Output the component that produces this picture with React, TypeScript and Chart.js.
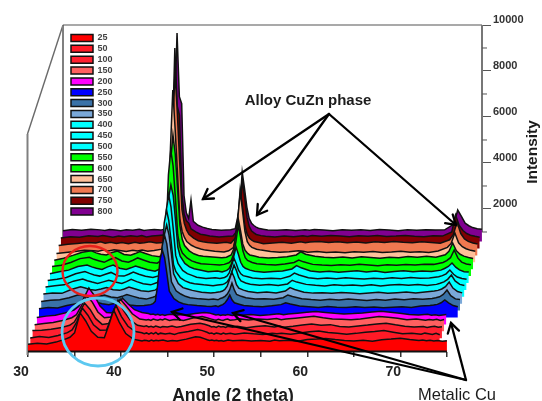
import React, { useEffect, useRef } from "react";
import { Chart, registerables } from "chart.js";

Chart.register(...registerables);

const angles = [
  30,31,32,33,34,34.5,35,35.6,36.2,36.8,
  37.5,38.2,38.7,39.2,39.8,40.5,
  41.3,42,42.25,42.5,42.75,43,43.25,43.5,43.75,44,44.5,45,45.5,46,
  47,48,
  48.5,49,49.25,49.5,49.75,50,50.25,50.5,50.75,51,51.5,52,53,
  54,55,56,56.5,57,
  58,59,60,61,62,63,64,65,66,67,
  68,69,70,
  71,72,72.4,72.8,73.2,73.6,74,74.5,75,
];

const seriesNames = ["25","50","100","150","200","250","300","350","400","450","500","550","600","650","700","750","800"];
const seriesColors = ["#ff0000","#ff1a26","#ff2030","#ff6060","#ff00ff","#0000ff","#3a72a8","#7aa8d8","#00ffff","#00ffff","#00ffff","#00ff00","#00ff00","#ffc09a","#f07850","#800000","#800090"];

const s25 = [340,380,350,430,560,640,830,1700,1350,900,
  640,620,1200,1830,1300,800,
  560,500,480,510,500,470,520,480,510,490,520,470,500,480,
  560,660,
  640,570,530,500,520,490,510,480,500,470,520,490,510,
  480,500,470,520,490,
  510,470,540,560,590,540,500,480,510,470,
  530,560,600,
  540,500,520,490,510,480,500,470,490];
const s50 = [310,370,330,420,540,660,1000,1610,1300,880,
  650,660,1150,1740,1240,820,
  590,540,500,530,480,530,490,550,470,520,480,510,460,530,
  590,680,
  630,560,510,530,480,520,500,470,520,480,510,
  470,530,490,460,520,
  490,510,470,530,580,610,550,520,470,510,
  560,590,630,
  560,490,510,470,520,490,460,510,450];
const s100 = [330,350,390,450,560,700,1050,1530,1250,850,
  600,640,1100,1660,1200,790,
  560,510,540,490,520,480,530,500,470,510,490,530,480,510,
  610,650,
  610,540,490,510,470,530,490,510,470,520,480,
  520,460,510,540,490,
  530,480,520,570,620,560,590,510,490,530,
  570,620,650,
  580,520,490,510,470,500,520,480,500];
const s150 = [290,340,380,470,590,720,1080,1535,1270,840,
  590,620,1050,1404,1120,760,
  530,490,510,470,530,500,480,520,490,540,470,510,500,470,
  580,640,
  590,530,500,480,520,490,470,510,530,480,500,
  540,490,530,510,560,
  500,530,570,610,650,590,540,520,500,540,
  590,640,610,
  570,500,530,480,510,490,520,470,510];
const s200 = [300,360,400,500,620,780,1100,1583,1250,800,
  520,496,800,1148,900,640,
  520,470,430,450,410,440,400,430,390,420,440,400,430,410,
  470,520,
  500,440,410,430,390,420,400,430,410,390,420,
  400,430,390,420,460,
  420,450,490,530,560,520,480,450,470,500,
  540,570,530,
  480,430,410,440,400,420,390,410,430];
const s250 = [380,430,410,520,600,640,620,590,660,600,
  560,620,640,600,540,510,
  520,560,600,700,1400,2500,2935,2600,1900,1150,820,680,600,560,
  520,490,
  480,510,470,520,560,640,780,978,760,640,580,520,490,
  470,510,560,640,590,
  500,470,440,480,450,430,470,440,460,420,
  450,470,440,
  500,520,540,570,640,761,640,520,470];
const s300 = [400,450,470,560,690,640,610,560,620,680,
  590,560,620,700,630,550,
  500,580,620,760,1600,2800,3287,2900,2100,1250,860,720,620,560,
  510,480,
  500,470,530,560,620,720,900,1200,900,700,620,560,500,
  520,490,560,680,610,
  520,480,450,490,460,500,470,440,480,450,
  500,470,510,
  490,530,560,600,700,896,650,510,480];
const s350 = [420,470,450,620,740,680,620,590,640,700,
  610,580,640,720,650,560,
  530,590,650,800,1700,3000,3422,3000,2200,1300,880,700,640,580,
  500,470,
  490,520,550,620,760,1050,1378,1150,830,680,590,530,480,
  510,470,550,700,620,
  500,460,480,450,490,460,430,470,500,450,
  480,510,470,
  510,550,580,640,740,943,680,530,470];
const s400 = [430,480,520,680,770,700,640,580,650,720,
  640,580,660,760,660,570,
  520,620,800,1600,3200,3774,3300,2400,1400,1100,820,690,610,570,
  520,480,
  510,530,570,640,800,1050,1383,1150,840,690,600,550,500,
  530,490,560,720,640,
  540,500,470,520,490,510,480,520,470,510,
  540,500,530,
  490,540,590,650,760,948,690,540,490];
const s450 = [410,460,540,700,800,720,650,600,680,760,
  620,600,680,780,680,590,
  540,620,820,1800,3500,4126,3600,2600,1500,1150,850,710,630,550,
  500,530,
  500,540,600,740,1050,1387,1150,860,700,620,570,520,490,
  510,480,590,730,650,
  530,490,520,480,530,500,470,510,490,530,
  500,540,510,
  520,570,620,700,865,680,560,500,460];
const s500 = [400,490,560,720,780,700,640,590,700,780,
  640,590,660,740,660,580,
  510,640,850,1900,3700,4261,3800,2700,1550,1170,850,700,620,580,
  490,520,
  480,550,630,820,1150,1565,1250,900,720,640,560,510,470,
  500,520,610,760,660,
  520,480,510,470,500,530,480,520,460,500,
  530,490,520,
  500,560,630,720,870,690,570,490,480];
const s550 = [420,470,590,760,820,730,670,600,720,810,
  660,600,690,790,700,600,
  560,760,1800,4400,5483,4800,3400,1800,1250,1000,790,660,590,540,
  510,480,
  510,580,680,950,1500,2222,1700,1100,800,680,590,540,500,
  480,530,590,700,620,
  510,480,460,490,470,510,480,450,490,470,
  500,480,520,
  510,590,670,800,1135,780,610,530,490];
const s600 = [390,480,600,740,800,710,650,620,730,790,
  640,610,680,770,680,590,
  540,800,2000,4700,5835,5000,3500,1900,1300,1030,800,670,600,560,
  530,500,
  520,620,850,1500,2226,1700,1100,820,700,620,570,520,490,
  510,540,620,760,650,
  560,520,500,530,490,540,510,480,520,500,
  550,520,560,
  520,630,780,1139,800,650,570,510,470];
const s650 = [380,430,470,520,500,480,530,490,540,510,
  470,520,490,530,480,510,
  570,1200,5000,7492,5800,3900,1900,1350,1080,900,740,640,580,530,
  480,450,
  500,640,1000,2000,3057,2200,1350,900,740,650,570,530,470,
  440,460,500,480,440,
  470,430,450,420,460,440,470,430,450,480,
  440,460,430,
  490,650,820,1274,850,680,590,520,480];
const s700 = [430,480,520,560,540,590,530,570,520,560,
  510,570,530,550,590,540,
  560,1400,5400,7974,6200,4100,2000,1400,1100,920,750,640,590,560,
  530,570,
  530,760,1500,2844,2100,1300,920,750,660,600,560,510,540,
  570,530,590,550,580,
  600,560,590,550,580,540,590,560,600,570,
  550,590,560,
  530,680,900,1452,950,720,610,540,500];
const s750 = [460,510,490,550,520,560,530,490,540,510,
  550,520,560,500,540,570,
  600,5000,8718,6200,5800,2400,1500,1200,1100,850,720,620,590,540,
  500,530,
  540,800,1600,2979,2200,1350,950,760,680,610,560,530,500,
  540,510,550,520,560,
  530,570,540,510,550,530,560,520,540,570,
  530,510,550,
  540,720,1457,1000,780,650,580,530,490];
const s800 = [470,530,490,540,510,480,530,500,470,520,
  490,540,480,510,530,500,
  580,5600,9070,6300,6000,2000,1250,1000,1809,880,710,630,570,530,
  490,520,
  560,1500,3026,2300,1500,1000,800,700,630,580,540,500,490,
  520,480,510,490,530,
  500,470,520,490,510,480,530,500,470,510,
  490,520,500,
  510,760,1374,1100,800,690,610,560,540];

const seriesValues = [s25,s50,s100,s150,s200,s250,s300,s350,s400,s450,s500,s550,s600,s650,s700,s750,s800];

const xTickValues = [30,35,40,45,50,55,60,65,70,75];
const yTickValues = [2000,4000,6000,8000,10000];
const yMinorValues = [1000,3000,5000,7000,9000];

const X_MIN = 30;
const X_MAX = 78.77;
const Y_MIN = -4218;
const Y_MAX = 10000;
const DEPTH_ANGLE = 0.235;
const DEPTH_VALUE = 300;

const ink = "#111111";
const font = "'Liberation Sans', Arial, sans-serif";

function arrow(ctx: CanvasRenderingContext2D, x0: number, y0: number, x1: number, y1: number) {
  const a = Math.atan2(y1 - y0, x1 - x0);
  ctx.beginPath();
  ctx.moveTo(x0, y0);
  ctx.lineTo(x1, y1);
  ctx.stroke();
  ctx.beginPath();
  ctx.moveTo(x1 - 11 * Math.cos(a - 0.55), y1 - 11 * Math.sin(a - 0.55));
  ctx.lineTo(x1, y1);
  ctx.lineTo(x1 - 11 * Math.cos(a + 0.55), y1 - 11 * Math.sin(a + 0.55));
  ctx.stroke();
}

const frame = {
  id: "frame",
  afterLayout(chart: any) {
    const lg = chart.legend;
    lg.left = 69.15;
    lg.right = 200;
    lg.top = 31.65;
    lg.bottom = 400;
  },
  beforeDatasetsDraw(chart: any) {
    const { ctx, scales: { x, y } } = chart;
    const xl = x.getPixelForValue(30) - 0.5;
    const xb = x.getPixelForValue(30 + DEPTH_ANGLE * 16);
    const xr = x.getPixelForValue(X_MAX);
    const yt = y.getPixelForValue(10000);
    const yf = y.getPixelForValue(1000);
    const yb = y.getPixelForValue(Y_MIN);
    const yw = y.getPixelForValue(5260);
    ctx.save();
    ctx.strokeStyle = "#808080";
    ctx.lineWidth = 2;
    ctx.beginPath();
    ctx.moveTo(xl, yb + 3);
    ctx.lineTo(xl, yw);
    ctx.stroke();
    ctx.lineWidth = 1.4;
    ctx.strokeStyle = "#6a6a6a";
    ctx.beginPath();
    ctx.moveTo(xl, yw);
    ctx.lineTo(xb, yt);
    ctx.stroke();
    ctx.lineWidth = 2;
    ctx.strokeStyle = "#808080";
    ctx.beginPath();
    ctx.moveTo(xb, yt);
    ctx.lineTo(xb, yf + 8);
    ctx.stroke();
    ctx.lineWidth = 1.2;
    ctx.strokeStyle = "#555555";
    ctx.beginPath();
    ctx.moveTo(xb, yt);
    ctx.lineTo(xr, yt);
    ctx.stroke();
    ctx.lineWidth = 2;
    ctx.strokeStyle = "#777777";
    ctx.beginPath();
    ctx.moveTo(xr, yt);
    ctx.lineTo(xr, yf);
    ctx.stroke();
    ctx.lineWidth = 1;
    ctx.strokeStyle = "#555555";
    yMinorValues.forEach((v) => {
      const p = y.getPixelForValue(v);
      ctx.beginPath();
      ctx.moveTo(xr, p);
      ctx.lineTo(xr + 5, p);
      ctx.stroke();
    });
    ctx.restore();
  },
  afterDatasetsDraw(chart: any) {
    const { ctx, scales: { x, y } } = chart;
    ctx.save();
    ctx.strokeStyle = ink;
    ctx.lineWidth = 2;
    ctx.beginPath();
    ctx.moveTo(x.getPixelForValue(30), y.getPixelForValue(Y_MIN) - 0.5);
    ctx.lineTo(x.getPixelForValue(75), y.getPixelForValue(Y_MIN) - 0.5);
    ctx.stroke();

    ctx.lineWidth = 2.4;
    ctx.strokeStyle = "#e8201c";
    ctx.beginPath();
    ctx.ellipse(90, 271, 27.5, 25, 0, 0, Math.PI * 2);
    ctx.stroke();
    ctx.lineWidth = 2.8;
    ctx.strokeStyle = "#5cc8f0";
    ctx.beginPath();
    ctx.ellipse(98, 332, 36, 34, 0, 0, Math.PI * 2);
    ctx.stroke();

    ctx.strokeStyle = "#000000";
    ctx.lineWidth = 2.3;
    ctx.lineCap = "round";
    arrow(ctx, 329, 114, 203, 199);
    arrow(ctx, 329, 114, 257, 215);
    arrow(ctx, 329, 114, 456, 225);
    arrow(ctx, 466, 380, 451, 323);
    arrow(ctx, 466, 380, 172, 312);
    arrow(ctx, 466, 380, 233, 313);

    ctx.fillStyle = "#1c1c1c";
    ctx.textAlign = "center";
    ctx.textBaseline = "middle";
    ctx.font = `bold 15px ${font}`;
    ctx.fillText("Alloy CuZn phase", 308, 101);
    ctx.font = `16.5px ${font}`;
    ctx.fillText("Metalic Cu", 457, 395);
    ctx.font = `bold 17.5px ${font}`;
    ctx.fillText("Angle (2 theta)", 233, 396);
    ctx.translate(533, 152);
    ctx.rotate(-Math.PI / 2);
    ctx.font = `bold 15.5px ${font}`;
    ctx.fillText("Intensity", 0, 0);
    ctx.restore();
  },
};

export default function App() {
  const ref = useRef<HTMLCanvasElement | null>(null);
  useEffect(() => {
    if (!ref.current) return;
    const datasets = seriesValues.map((values, i) => ({
      label: seriesNames[i],
      data: values.map((v, j) => ({
        x: angles[j] + i * DEPTH_ANGLE,
        y: Y_MIN + i * DEPTH_VALUE + v,
      })),
      borderColor: ink,
      borderWidth: 1.5,
      backgroundColor: seriesColors[i],
      pointRadius: 0,
      tension: 0,
      clip: false as any,
      fill: { value: Y_MIN + i * DEPTH_VALUE },
    }));
    const chart = new Chart(ref.current, {
      type: "line",
      data: { datasets },
      plugins: [frame],
      options: {
        responsive: false,
        animation: false,
        layout: { padding: { left: 28, top: 25, right: 0, bottom: 0 } },
        plugins: {
          tooltip: { enabled: false },
          title: { display: false },
          legend: {
            position: "chartArea" as any,
            align: "start",
            labels: {
              boxWidth: 22,
              boxHeight: 7,
              padding: 1.85,
              color: "#444444",
              font: { family: font, size: 9, weight: "bold" },
            },
          },
        },
        scales: {
          x: {
            type: "linear",
            min: X_MIN,
            max: X_MAX,
            afterFit: (s: any) => { s.height = 49; },
            afterBuildTicks: (s: any) => { s.ticks = xTickValues.map((value) => ({ value })); },
            border: { display: false },
            grid: { drawOnChartArea: false, drawTicks: true, tickLength: 5, color: "#333333", lineWidth: 1.5 },
            ticks: {
              autoSkip: false,
              maxRotation: 0,
              padding: 6.6,
              labelOffset: -7,
              color: "#222222",
              font: { family: font, size: 14, weight: "bold" },
              callback: (v: any) => (v % 10 === 0 && v < 75 ? String(v) : ""),
            },
          },
          y: {
            type: "linear",
            position: "right",
            min: Y_MIN,
            max: Y_MAX,
            afterFit: (s: any) => { s.width = 60; },
            afterBuildTicks: (s: any) => { s.ticks = yTickValues.map((value) => ({ value })); },
            border: { display: false },
            grid: { drawOnChartArea: false, drawTicks: true, tickLength: 9, color: "#555555", lineWidth: 1 },
            ticks: {
              autoSkip: false,
              padding: 2,
              labelOffset: -5,
              color: "#333333",
              font: { family: font, size: 11, weight: "bold" },
              callback: (v: any) => String(v),
            },
          },
        },
      },
    });
    return () => chart.destroy();
  }, []);
  return (
    <div style={{ position: "fixed", left: 0, top: 0, width: 542, height: 401, background: "#ffffff" }}>
      <canvas ref={ref} width={542} height={401} style={{ display: "block" }} />
    </div>
  );
}
